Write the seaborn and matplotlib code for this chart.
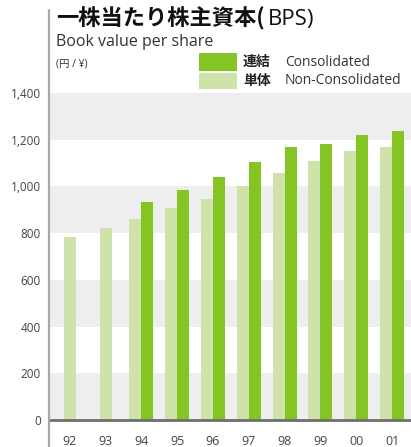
import matplotlib
matplotlib.use("Agg")
import matplotlib.pyplot as plt
import numpy as np
import pandas as pd
import seaborn as sns
from matplotlib.lines import Line2D
from matplotlib.patches import Rectangle

# data (yen per share)
years = ["92", "93", "94", "95", "96", "97", "98", "99", "00", "01"]
consolidated = [np.nan, np.nan, 933, 985, 1040, 1104, 1169, 1182, 1220, 1237]
non_consolidated = [783, 822, 860, 907, 946, 1002, 1057, 1109, 1152, 1169]
y_ticks = [0, 200, 400, 600, 800, 1000, 1200, 1400]

dark_green = "#84c423"
light_green = "#cee2aa"
band_gray = "#eeeeee"
text_gray = "#444444"

df = pd.DataFrame(
    {
        "year": years * 2,
        "value": non_consolidated + consolidated,
        "kind": ["単体"] * len(years) + ["連結"] * len(years),
    }
)

sns.set_theme(style="white")
plt.rcParams["font.family"] = ["Open Sans", "Noto Sans CJK JP", "DejaVu Sans"]

W, H = 411, 447
fig = plt.figure(figsize=(W / 100, H / 100), dpi=100)
ax = fig.add_axes([49 / W, 27 / H, 362 / W, 327 / H])

# alternating gray bands
for lo in y_ticks[:-1:2]:
    ax.axhspan(lo, lo + 200, color=band_gray, zorder=0, lw=0)

sns.barplot(
    data=df,
    x="year",
    y="value",
    hue="kind",
    hue_order=["単体", "連結"],
    order=years,
    palette={"単体": light_green, "連結": dark_green},
    width=0.67,
    gap=0,
    dodge=True,
    errorbar=None,
    legend=False,
    saturation=1,
    linewidth=0,
    ax=ax,
    zorder=2,
)
ax.grid(False)

# years without a consolidated figure: center the single bar
light_bars = ax.containers[0]
for i, patch in enumerate(light_bars.patches):
    if np.isnan(consolidated[i]):
        patch.set_x(patch.get_x() + patch.get_width() / 2)

ax.set_xlim(-0.58, 9.53)
ax.set_ylim(0, 1400)
ax.set_yticks(y_ticks)
ax.set_yticklabels([f"{v:,}" for v in y_ticks])
ax.set_xlabel("")
ax.set_ylabel("")
ax.tick_params(axis="y", length=0, pad=6, labelsize=8.5, labelcolor=text_gray)
ax.tick_params(axis="x", length=0, pad=11, labelsize=9, labelcolor=text_gray)
for s in ax.spines.values():
    s.set_visible(False)
ax.axhline(0, color="#6e6e6e", lw=2, zorder=3, clip_on=False)

# left vertical rule running from the title down to the bottom edge
fig.add_artist(Line2D([48.5 / W, 48.5 / W], [0, 1 - 10 / H],
                      transform=fig.transFigure, color="#a8a8a8", lw=1.6))

# titles
fig.text(56 / W, 1 - 19 / H, "一株当たり株主資本(", fontsize=16, fontweight="bold",
         family=["Noto Sans CJK JP"], color="#111111", va="center")
fig.text(268 / W, 1 - 19.5 / H, "BPS)", fontsize=16, color="#111111", va="center")
fig.text(56 / W, 1 - 42 / H, "Book value per share", fontsize=11.5,
         color="#333333", va="center")
fig.text(56 / W, 1 - 64 / H, "(円 / ¥)", fontsize=7.5, color="#333333", va="center")

# legend
fig.add_artist(Rectangle((199 / W, 1 - 71 / H), 38 / W, 18 / H,
                         transform=fig.transFigure, color=dark_green, lw=0))
fig.add_artist(Rectangle((199 / W, 1 - 89 / H), 38 / W, 16 / H,
                         transform=fig.transFigure, color=light_green, lw=0))
fig.text(243 / W, 1 - 62 / H, "連結", fontsize=10, fontweight="bold",
         family=["Noto Sans CJK JP"], color="#222222", va="center")
fig.text(285 / W, 1 - 62 / H, "Consolidated", fontsize=10, color="#333333", va="center")
fig.text(243 / W, 1 - 81 / H, "単体", fontsize=10, fontweight="bold",
         family=["Noto Sans CJK JP"], color="#222222", va="center")
fig.text(285 / W, 1 - 81 / H, "Non-Consolidated", fontsize=10, color="#333333", va="center")

fig.savefig("out.png", dpi=100)
